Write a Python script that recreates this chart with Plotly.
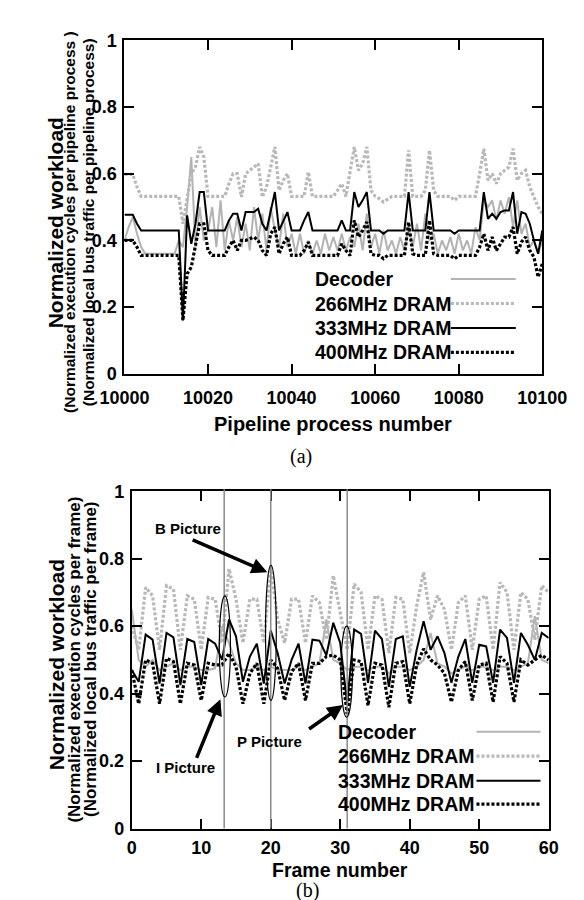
import plotly.graph_objects as go

W, H = 584, 900

# ---------------- (a) data ----------------
proc_num = list(range(10000, 10101))
dec_a = [
    0.40, 0.44, 0.47, 0.42, 0.38, 0.36, 0.36, 0.36, 0.36, 0.36,
    0.36, 0.36, 0.36, 0.40, 0.38, 0.50, 0.65, 0.38, 0.50, 0.40,
    0.43, 0.50, 0.38, 0.52, 0.37, 0.46, 0.40, 0.47, 0.38, 0.45,
    0.37, 0.50, 0.40, 0.48, 0.37, 0.50, 0.43, 0.38, 0.48, 0.38,
    0.42, 0.36, 0.42, 0.36, 0.40, 0.36, 0.40, 0.36, 0.42, 0.37,
    0.41, 0.37, 0.42, 0.37, 0.41, 0.38, 0.45, 0.37, 0.48, 0.38,
    0.42, 0.36, 0.43, 0.37, 0.40, 0.36, 0.41, 0.37, 0.44, 0.38,
    0.45, 0.37, 0.48, 0.40, 0.42, 0.36, 0.40, 0.37, 0.41, 0.36,
    0.42, 0.37, 0.40, 0.36, 0.44, 0.40, 0.52, 0.50, 0.52, 0.46,
    0.52, 0.48, 0.53, 0.44, 0.52, 0.42, 0.45, 0.38, 0.40, 0.36,
    0.40]
d266_a = [
    0.598, 0.598, 0.598, 0.56, 0.532, 0.532, 0.532, 0.532, 0.532, 0.532,
    0.532, 0.532, 0.532, 0.532, 0.45, 0.52, 0.60, 0.62, 0.68, 0.65,
    0.532, 0.532, 0.532, 0.532, 0.532, 0.57, 0.60, 0.60, 0.53, 0.60,
    0.61, 0.62, 0.63, 0.53, 0.56, 0.62, 0.68, 0.55, 0.58, 0.60,
    0.532, 0.532, 0.532, 0.532, 0.605, 0.532, 0.532, 0.532, 0.532, 0.532,
    0.532, 0.55, 0.57, 0.532, 0.60, 0.68, 0.61, 0.63, 0.68, 0.55,
    0.532, 0.525, 0.515, 0.525, 0.532, 0.532, 0.532, 0.532, 0.67, 0.532,
    0.532, 0.532, 0.55, 0.67, 0.55, 0.532, 0.532, 0.532, 0.532, 0.52,
    0.532, 0.532, 0.532, 0.532, 0.532, 0.60, 0.675, 0.58, 0.60, 0.57,
    0.60, 0.61, 0.62, 0.675, 0.58, 0.60, 0.61, 0.56, 0.53, 0.50,
    0.48]
d333_a = [
    0.477, 0.477, 0.477, 0.45, 0.43, 0.43, 0.43, 0.43, 0.43, 0.43,
    0.43, 0.43, 0.43, 0.43, 0.16, 0.475, 0.39, 0.45, 0.545, 0.545,
    0.43, 0.43, 0.43, 0.43, 0.43, 0.46, 0.48, 0.48, 0.43, 0.485,
    0.485, 0.485, 0.495, 0.45, 0.43, 0.49, 0.545, 0.43, 0.46, 0.485,
    0.43, 0.43, 0.43, 0.46, 0.485, 0.43, 0.43, 0.43, 0.43, 0.43,
    0.43, 0.43, 0.46, 0.43, 0.43, 0.545, 0.50, 0.52, 0.545, 0.43,
    0.43, 0.43, 0.42, 0.43, 0.43, 0.43, 0.43, 0.43, 0.545, 0.43,
    0.43, 0.43, 0.43, 0.545, 0.43, 0.43, 0.43, 0.43, 0.43, 0.42,
    0.43, 0.43, 0.43, 0.43, 0.43, 0.43, 0.545, 0.465, 0.48, 0.465,
    0.485, 0.49, 0.49, 0.545, 0.42, 0.485, 0.48, 0.45, 0.40, 0.36,
    0.43]
d400_a = [
    0.40, 0.40, 0.40, 0.38, 0.355, 0.355, 0.355, 0.355, 0.355, 0.355,
    0.355, 0.355, 0.355, 0.355, 0.16, 0.30, 0.32, 0.38, 0.45, 0.45,
    0.37, 0.355, 0.355, 0.355, 0.355, 0.38, 0.40, 0.37, 0.40, 0.40,
    0.405, 0.41, 0.40, 0.37, 0.355, 0.42, 0.44, 0.36, 0.39, 0.41,
    0.355, 0.355, 0.355, 0.37, 0.395, 0.355, 0.355, 0.355, 0.355, 0.355,
    0.355, 0.355, 0.39, 0.37, 0.355, 0.46, 0.41, 0.43, 0.455, 0.36,
    0.355, 0.355, 0.345, 0.355, 0.355, 0.355, 0.355, 0.355, 0.455, 0.36,
    0.355, 0.355, 0.355, 0.46, 0.36, 0.355, 0.355, 0.355, 0.355, 0.345,
    0.355, 0.355, 0.355, 0.355, 0.355, 0.38, 0.42, 0.37, 0.41, 0.37,
    0.39, 0.41, 0.41, 0.44, 0.36, 0.395, 0.41, 0.37, 0.35, 0.29,
    0.33]

# ---------------- (b) data ----------------
frame_num = list(range(0, 61))
dec_b = [
    0.65, 0.50, 0.48, 0.50, 0.47, 0.48, 0.49, 0.47, 0.48, 0.48,
    0.47, 0.47, 0.475, 0.60, 0.55, 0.49, 0.47, 0.47, 0.48, 0.47,
    0.48, 0.47, 0.47, 0.47, 0.48, 0.47, 0.48, 0.49, 0.62, 0.50,
    0.49, 0.47, 0.48, 0.48, 0.47, 0.48, 0.48, 0.46, 0.48, 0.48,
    0.47, 0.48, 0.50, 0.58, 0.49, 0.48, 0.46, 0.47, 0.48, 0.47,
    0.48, 0.48, 0.47, 0.48, 0.48, 0.47, 0.48, 0.49, 0.63, 0.50,
    0.49]
d266_b = [
    0.60, 0.53, 0.715, 0.69, 0.53, 0.72, 0.71, 0.53, 0.69, 0.68,
    0.53, 0.685, 0.68, 0.55, 0.77, 0.68, 0.55, 0.68, 0.68, 0.55,
    0.775, 0.62, 0.55, 0.68, 0.68, 0.55, 0.69, 0.67, 0.56, 0.75,
    0.64, 0.53, 0.725, 0.70, 0.53, 0.69, 0.68, 0.52, 0.685, 0.68,
    0.52, 0.66, 0.76, 0.62, 0.69, 0.65, 0.53, 0.67, 0.69, 0.53,
    0.68, 0.69, 0.53, 0.73, 0.70, 0.53, 0.70, 0.68, 0.56, 0.72,
    0.70]
d333_b = [
    0.47, 0.435, 0.575, 0.56, 0.43, 0.58, 0.567, 0.425, 0.562, 0.553,
    0.425, 0.562, 0.548, 0.50, 0.62, 0.57, 0.435, 0.51, 0.548, 0.43,
    0.587, 0.52, 0.43, 0.50, 0.548, 0.43, 0.56, 0.557, 0.514, 0.61,
    0.55, 0.37, 0.59, 0.577, 0.432, 0.587, 0.562, 0.42, 0.562, 0.57,
    0.42, 0.53, 0.615, 0.53, 0.57, 0.52, 0.432, 0.51, 0.562, 0.432,
    0.545, 0.54, 0.432, 0.59, 0.565, 0.432, 0.58, 0.545, 0.50, 0.58,
    0.565]
d400_b = [
    0.47, 0.37, 0.50, 0.49, 0.37, 0.505, 0.495, 0.37, 0.49, 0.485,
    0.38, 0.49, 0.485, 0.485, 0.52, 0.48, 0.37, 0.46, 0.49, 0.37,
    0.50, 0.475, 0.38, 0.465, 0.49, 0.38, 0.49, 0.49, 0.51, 0.514,
    0.50, 0.34, 0.50, 0.495, 0.365, 0.49, 0.485, 0.36, 0.49, 0.495,
    0.37, 0.485, 0.533, 0.50, 0.485, 0.46, 0.375, 0.47, 0.495, 0.38,
    0.485, 0.49, 0.375, 0.51, 0.49, 0.375, 0.50, 0.485, 0.50, 0.514,
    0.50]

series_names = ["Decoder", "266MHz DRAM", "333MHz DRAM", "400MHz DRAM"]
y_ticks = [0, 0.2, 0.4, 0.6, 0.8, 1]
x_ticks_a = [10000, 10020, 10040, 10060, 10080, 10100]
x_ticks_b = [0, 10, 20, 30, 40, 50, 60]
mark_frames = [13.3, 20, 31]

# ---------------- styles ----------------
FONT = "Liberation Sans, Arial, Helvetica, sans-serif"
SERIF = "Liberation Serif, Times New Roman, serif"
GRAY_SOLID = "#b3b3b3"
GRAY_DOT = "#b8b8b8"
styles = [
    dict(color=GRAY_SOLID, width=2, dash="solid"),
    dict(color=GRAY_DOT, width=3.2, dash="3px,2px"),
    dict(color="black", width=2, dash="solid"),
    dict(color="black", width=3.2, dash="3px,2px"),
]


def px(x):
    return x / W


def py(y):
    return 1 - y / H


fig = go.Figure()

for data, st, nm in zip([dec_a, d266_a, d333_a, d400_a], styles, series_names):
    fig.add_trace(go.Scatter(x=proc_num, y=data, mode="lines", name=nm,
                             line=dict(color=st["color"], width=st["width"], dash=st["dash"]),
                             xaxis="x", yaxis="y", showlegend=False))
for data, st, nm in zip([dec_b, d266_b, d333_b, d400_b], styles, series_names):
    fig.add_trace(go.Scatter(x=frame_num, y=data, mode="lines", name=nm,
                             line=dict(color=st["color"], width=st["width"], dash=st["dash"]),
                             xaxis="x2", yaxis="y2", showlegend=False))

axis_common = dict(showline=True, linewidth=2, linecolor="black", mirror="ticks",
                   ticks="inside", ticklen=10, tickwidth=1.5, tickcolor="black",
                   showgrid=False, zeroline=False,
                   tickfont=dict(family=FONT, size=18, color="black", weight="bold"))

fig.update_layout(
    width=W, height=H, margin=dict(l=0, r=0, t=0, b=0),
    paper_bgcolor="white", plot_bgcolor="white", showlegend=False,
    xaxis=dict(domain=[px(100), px(557)], range=[10000, 10100], tickvals=x_ticks_a,
               tickformat="d", anchor="y", ticklabelstandoff=6, **axis_common),
    yaxis=dict(domain=[py(364), py(22.7)], range=[0, 1], tickvals=y_ticks,
               anchor="x", ticklabelstandoff=2, **axis_common),
    xaxis2=dict(domain=[px(108), px(564)], range=[0, 60], tickvals=x_ticks_b,
                anchor="y2", ticklabelstandoff=2, **axis_common),
    yaxis2=dict(domain=[py(829), py(484)], range=[0, 1], tickvals=y_ticks,
                anchor="x2", ticklabelstandoff=2, **axis_common),
)

ann = []
shapes = []


def txt(x, y, s, size, angle=0, xanchor="center", family=FONT, bold=True):
    ann.append(dict(x=px(x), y=py(y), xref="paper", yref="paper", text=s, showarrow=False,
                    textangle=angle, xanchor=xanchor, yanchor="middle",
                    font=dict(family=family, size=size, color="black",
                              weight="bold" if bold else "normal")))


# axis titles (a)
txt(24, 209, "Normalized workload", 21, -90)
txt(40, 209, "(Normalized execution cycles per pipeline process )", 15.5, -90)
txt(60, 209, "(Normalized local bus traffic per pipeline process)", 15.5, -90)
txt(328, 415, "Pipeline process number", 20)
txt(293, 448, "(a)", 20, family=SERIF, bold=False)

# axis titles (b)
txt(25, 661, "Normalized workload", 21, -90)
txt(45, 656, "(Normalized execution cycles per frame)", 17, -90)
txt(63, 656, "(Normalized local bus traffic per frame)", 17, -90)
txt(336, 871, "Frame number", 19.5)
txt(300, 892, "(b)", 20, family=SERIF, bold=False)


# legends drawn inside the plots (text left, sample right)
def legend(x_text, x0, x1, rows):
    for nm, st, yy in zip(series_names, styles, rows):
        txt(x_text, yy, nm, 19.5, xanchor="left")
        shapes.append(dict(type="line", xref="paper", yref="paper",
                           x0=px(x0), x1=px(x1), y0=py(yy), y1=py(yy),
                           line=dict(color=st["color"], width=st["width"], dash=st["dash"])))


legend(306, 457, 528, [267, 292, 317, 342])
legend(331, 485, 555, [730, 755, 780, 804])

# vertical marker lines in (b)
for f in mark_frames:
    shapes.append(dict(type="line", xref="x2", yref="y2 domain", x0=f, x1=f, y0=0, y1=1.006,
                       line=dict(color="#8a8a8a", width=1.5), layer="above"))

# ellipses in (b)
for (fx0, fx1, vy0, vy1) in [(12.6, 14.2, 0.39, 0.69), (19.25, 20.8, 0.38, 0.78),
                             (30.1, 31.75, 0.33, 0.60)]:
    shapes.append(dict(type="circle", xref="x2", yref="y2", x0=fx0, x1=fx1, y0=vy0, y1=vy1,
                       line=dict(color="black", width=1.2)))

# arrows + labels in (b)
for (hx, hy, tx, ty) in [(19.5, 0.76, 8.55, 0.858), (12.76, 0.383, 9.25, 0.205),
                         (30.4, 0.366, 25.3, 0.292)]:
    ann.append(dict(x=hx, y=hy, ax=tx, ay=ty, xref="x2", yref="y2", axref="x2", ayref="y2",
                    text="", showarrow=True, arrowhead=2, arrowsize=0.9, arrowwidth=3.5,
                    arrowcolor="black"))

for (fx, vy, s) in [(8.16, 0.89, "B Picture"), (7.76, 0.18, "I Picture"),
                    (19.87, 0.258, "P Picture")]:
    ann.append(dict(x=fx, y=vy, xref="x2", yref="y2", text=s, showarrow=False,
                    font=dict(family=FONT, size=15, color="black", weight="bold")))

fig.update_layout(annotations=ann, shapes=shapes)
fig.write_html("out.html")
